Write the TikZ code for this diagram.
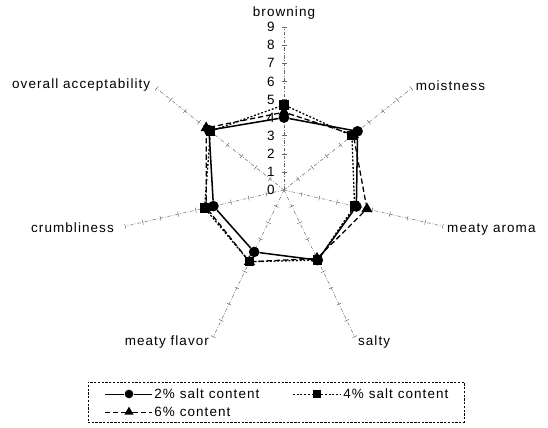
\documentclass[tikz,border=0pt]{standalone}
\usepackage{fontspec}
\setmainfont{Liberation Sans}[LetterSpace=8]
\usetikzlibrary{calc, positioning, shapes.geometric}

\begin{document}
\begin{tikzpicture}[
  x=0.03cm, y=0.03cm,
  every node/.style={font=\fontsize{11.5}{13}\selectfont},
  axisline/.style={draw=gray!80!black, line width=0.4pt, dash pattern=on 3pt off 1.5pt on 0.6pt off 1.5pt},
  axtick/.style={draw=gray!80!black, line width=0.4pt},
  lbl/.style={inner sep=1pt},
  lowsalt/.style={line width=1.3pt},
  midsalt/.style={line width=1.1pt, dash pattern=on 1.6pt off 1.6pt},
  highsalt/.style={line width=1.1pt, dash pattern=on 4.5pt off 2.5pt},
  dot/.style={circle, fill=black, inner sep=0pt, minimum size=3.2mm},
  sq/.style={rectangle, fill=black, inner sep=0pt, minimum size=2.8mm},
  tri/.style={regular polygon, regular polygon sides=3, fill=black, inner sep=0pt, minimum size=3.9mm},
  legbox/.style={draw, line width=0.4pt, dash pattern=on 2pt off 1.2pt, minimum width=11.28cm, minimum height=1.2cm}
]
  \useasboundingbox (0,0) rectangle (548,428);
  \def\u{18.1}

  % centre of the chart
  \coordinate (o) at (284,238);

  % axes with a tick at every unit
  \foreach \a/\n in {90/brown, 38.57/moist, -12.86/aroma, -64.29/salty, -115.71/flavor, -167.14/crumb, 141.43/overall} {
    \coordinate (\n) at ($(o)+(\a:9*\u)$);
    \draw[axisline] (o) -- (\n);
    \foreach \k in {1,...,9}
      \draw[axtick] ($(o)+(\a:\k*\u)+(\a+90:2.5)$) -- ($(o)+(\a:\k*\u)+(\a-90:2.5)$);
  }

  % scale on the browning axis
  \foreach \k in {0,...,9}
    \node[lbl, anchor=east] (t\k) at ($(o)+(-8,\k*\u)$) {\k};

  % axis names
  \node[lbl, above=2mm of brown] (lbrown) {browning};
  \node[lbl, anchor=west] (lmoist) at ($(moist)+(3,3)$) {moistness};
  \node[lbl, anchor=west] (laroma) at ($(aroma)+(3,-3)$) {meaty aroma};
  \node[lbl, anchor=west] (lsalty) at ($(salty)+(2,-5)$) {salty};
  \node[lbl, anchor=east] (lflavor) at ($(flavor)+(-3,-5)$) {meaty flavor};
  \node[lbl, anchor=east] (lcrumb) at ($(crumb)+(-10,-1)$) {crumbliness};
  \node[lbl, anchor=east] (loverall) at ($(overall)+(-5,3)$) {overall acceptability};

  % scores
  \foreach \v [count=\i] in {4.3,4.9,4.7,4.2,4.4,4.4,5.5}
    \node[tri] (hi\i) at ($(o)+({90-(\i-1)*360/7}:\v*\u)$) {};
  \foreach \v [count=\i] in {4.7,4.8,4.0,4.3,4.4,4.5,5.2}
    \node[sq] (md\i) at ($(o)+({90-(\i-1)*360/7}:\v*\u)$) {};
  \foreach \v [count=\i] in {4.0,5.2,4.1,4.3,3.8,4.0,5.3}
    \node[dot] (lo\i) at ($(o)+({90-(\i-1)*360/7}:\v*\u)$) {};

  \draw[highsalt] (hi1) -- (hi2) -- (hi3) -- (hi4) -- (hi5) -- (hi6) -- (hi7) -- (hi1);
  \draw[midsalt] (md1) -- (md2) -- (md3) -- (md4) -- (md5) -- (md6) -- (md7) -- (md1);
  \draw[lowsalt] (lo1) -- (lo2) -- (lo3) -- (lo4) -- (lo5) -- (lo6) -- (lo7) -- (lo1);

  % legend
  \node[legbox] (leg) at (276,26) {};
  \coordinate (la1) at (105,34);
  \coordinate (lb1) at (152,34);
  \node[dot, minimum size=2.6mm] (lm1) at (129,34) {};
  \draw[line width=0.8pt] (la1) -- (lm1) -- (lb1);
  \node[lbl, anchor=west] (lt1) at (153,34) {2\% salt content};
  \coordinate (la2) at (293,34);
  \coordinate (lb2) at (341,34);
  \node[sq, minimum size=2.4mm] (lm2) at (317,34) {};
  \draw[line width=0.8pt, dash pattern=on 1.6pt off 1.6pt] (la2) -- (lm2) -- (lb2);
  \node[lbl, anchor=west] (lt2) at (342,34) {4\% salt content};
  \coordinate (la3) at (105,16);
  \coordinate (lb3) at (152,16);
  \node[tri, minimum size=3.2mm] (lm3) at (129,16) {};
  \draw[line width=0.8pt, dash pattern=on 4.5pt off 2.5pt] (la3) -- (lm3) -- (lb3);
  \node[lbl, anchor=west] (lt3) at (153,16) {6\% content};

\end{tikzpicture}
\end{document}
